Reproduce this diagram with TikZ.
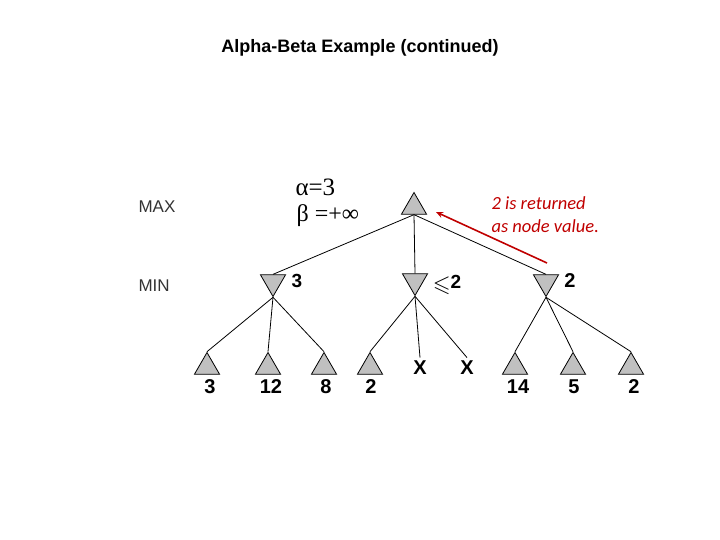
\documentclass[tikz,border=0pt]{standalone}
\usepackage{amsmath}
\usepackage{amssymb}
\usepackage{fontspec}
\setmainfont{Liberation Sans}
\newfontfamily\timesf{Liberation Serif}
\newfontfamily\calibrif{Carlito}
\usetikzlibrary{shapes.geometric,arrows.meta}
\definecolor{trigray}{RGB}{192,192,192}
\definecolor{notered}{RGB}{192,0,0}

\begin{document}
\begin{tikzpicture}[x=1pt,y=-1pt,
		maxno/.style={regular polygon,regular polygon sides=3,minimum size=29pt,inner sep=0pt,draw,fill=trigray,line width=0.8pt},
		minno/.style={maxno,shape border rotate=180},
		ramo/.style={line width=0.8pt},
		rotulo/.style={font=\bfseries\fontsize{20}{24}\selectfont},
		nivel/.style={font=\fontsize{17}{20}\selectfont,text=black!80,anchor=west},
		nota/.style={font=\calibrif\itshape\fontsize{18.5}{23}\selectfont,text=notered,align=left,anchor=north west}]
		
		\useasboundingbox (0,0) rectangle (720,540);
		
%		titulo
		\node[font=\bfseries\fontsize{18}{21}\selectfont] (titulo) at (360,48) {Alpha-Beta Example (continued)};
		
%		niveis
		\node[nivel] (lmax) at (135,207) {MAX};
		\node[nivel] (lmin) at (135,286) {MIN};
		
%		raiz
		\node[maxno] (raiz) at (414,207) {};
		\node[font=\timesf\fontsize{25}{28}\selectfont,anchor=west] (alfa) at (292,187) {α=3};
		\node[font=\timesf\fontsize{24}{28}\selectfont,anchor=west] (beta) at (293,216) {β =+∞};
		
%		nos min
		\node[minno] (m1) at (273,282) {};
		\node[minno] (m2) at (415,281) {};
		\node[minno] (m3) at (546,282) {};
		\node[font=\bfseries\fontsize{19}{22}\selectfont] (v1) at (297,281) {3};
		\node[font=\bfseries\fontsize{19}{22}\selectfont] (v2) at (447,285) {\raisebox{-3pt}{\fontsize{23}{26}\selectfont$\leqslant$}2};
		\node[font=\bfseries\fontsize{20}{24}\selectfont] (v3) at (570,281) {2};
		
		\draw[ramo] (raiz.south) -- (m1.north);
		\draw[ramo] (raiz.south) -- (m2.north);
		\draw[ramo] (raiz.south) -- (m3.north);
		
%		folhas
		\node[maxno] (f1) at (207,367) {};
		\node[maxno] (f2) at (268,367) {};
		\node[maxno] (f3) at (324,367) {};
		\node[maxno] (f4) at (370,367) {};
		\node[rotulo] (x1) at (420,368) {X};
		\node[rotulo] (x2) at (467,368) {X};
		\node[maxno] (f5) at (515,367) {};
		\node[maxno] (f6) at (573,367) {};
		\node[maxno] (f7) at (631,367) {};
		
		\node[rotulo] (r1) at (210,387) {3};
		\node[rotulo] (r2) at (271,387) {12};
		\node[rotulo] (r3) at (326,387) {8};
		\node[rotulo] (r4) at (371,387) {2};
		\node[rotulo] (r5) at (518,387) {14};
		\node[rotulo] (r6) at (574,387) {5};
		\node[rotulo] (r7) at (634,387) {2};
		
		\draw[ramo] (m1.south) -- (f1.north);
		\draw[ramo] (m1.south) -- (f2.north);
		\draw[ramo] (m1.south) -- (f3.north);
		\draw[ramo] (m2.south) -- (f4.north);
		\draw[ramo] (m2.south) -- (x1.north);
		\draw[ramo] (m2.south) -- (x2.north);
		\draw[ramo] (m3.south) -- (f5.north);
		\draw[ramo] (m3.south) -- (f6.north);
		\draw[ramo] (m3.south) -- (f7.north);
		
%		valor devolvido
		\coordinate (sa) at (547,263);
		\coordinate (ch) at (436,212);
		\draw[notered,line width=1.6pt,-{Stealth[length=7pt,width=6pt]}] (sa) -- (ch);
		\node[nota] (texto) at (488,193) {2 is returned\\ as node value.};
		
\end{tikzpicture}
\end{document}
